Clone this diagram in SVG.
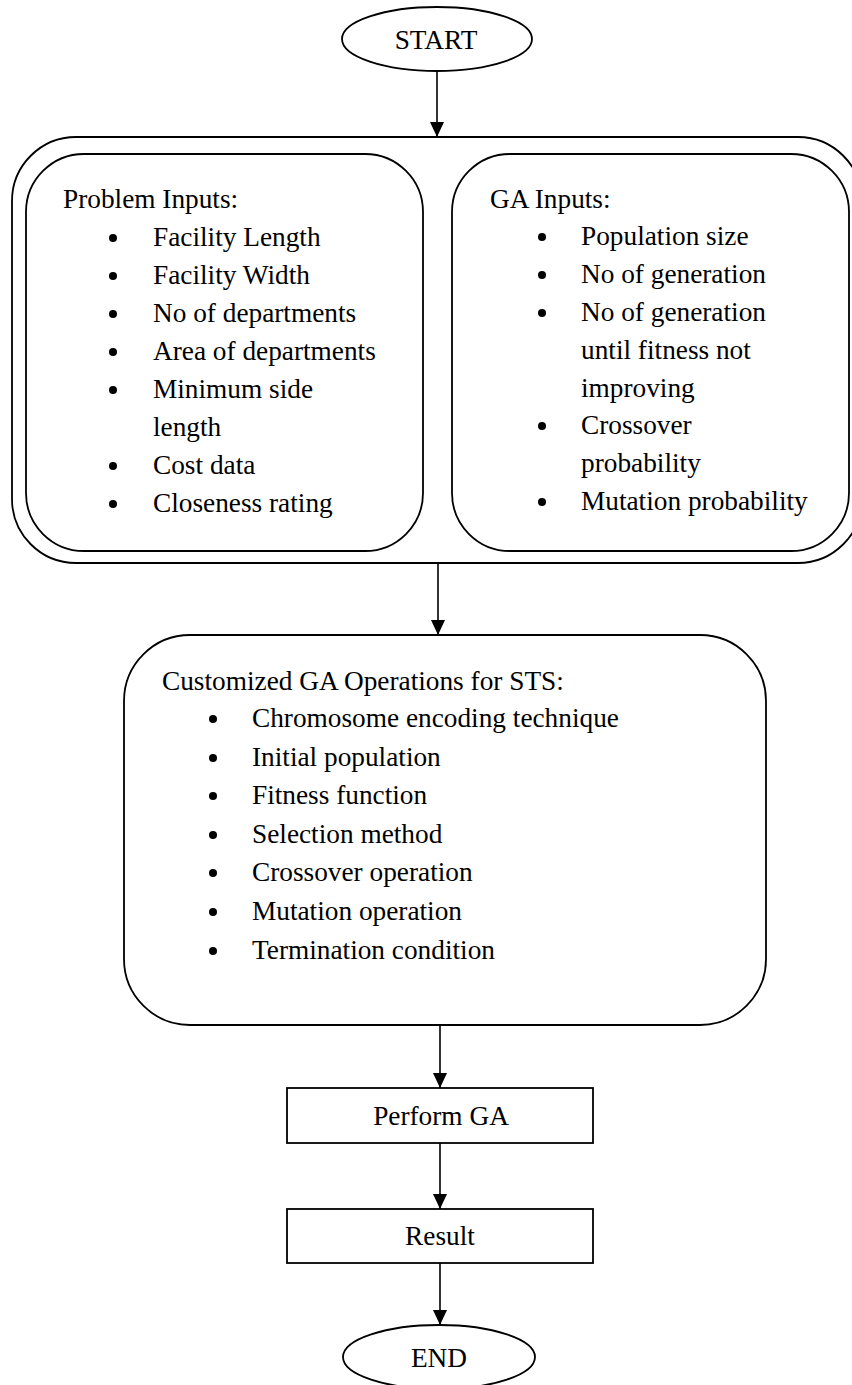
<svg xmlns="http://www.w3.org/2000/svg" width="852" height="1385" viewBox="0 0 852 1385">
  <style>
    .shape { fill: none; stroke: #000; stroke-width: 1.8; }
    .txt { font-family: "Liberation Serif", "Times New Roman", serif; font-size: 27.3px; fill: #000; }
    .mid { text-anchor: middle; }
    .dot { fill: #000; }
    .link { stroke: #000; stroke-width: 1.6; fill: none; marker-end: url(#arrow); }
  </style>
  <defs>
    <marker id="arrow" markerUnits="userSpaceOnUse" markerWidth="15" markerHeight="14" refX="15" refY="7" orient="auto" viewBox="0 0 15 14">
      <path d="M0,0 L15,7 L0,14 Z" fill="#000"/>
    </marker>
  </defs>
  <rect width="852" height="1385" fill="#fff"/>

  <!-- connectors -->
  <g id="connectors">
    <line class="link" x1="437" y1="71" x2="437" y2="137"/>
    <line class="link" x1="438" y1="564" x2="438" y2="635"/>
    <line class="link" x1="440" y1="1025" x2="440" y2="1088"/>
    <line class="link" x1="440" y1="1143" x2="440" y2="1209"/>
    <line class="link" x1="440" y1="1263" x2="440" y2="1325"/>
  </g>

  <!-- start terminator -->
  <g id="start">
    <ellipse class="shape" cx="437" cy="39" rx="95" ry="32"/>
    <text class="txt mid" x="436" y="49">START</text>
  </g>

  <!-- inputs container -->
  <g id="inputs">
    <rect class="shape" x="12" y="137" width="850" height="426" rx="64" ry="64"/>
  </g>

  <!-- problem inputs -->
  <g id="problem-inputs">
    <rect class="shape" x="26" y="154" width="397" height="397" rx="58" ry="58"/>
    <text class="txt" x="63" y="208">Problem Inputs:</text>
    <circle class="dot" cx="113" cy="238" r="4"/>
    <text class="txt" x="153" y="246">Facility Length</text>
    <circle class="dot" cx="113" cy="276" r="4"/>
    <text class="txt" x="153" y="284">Facility Width</text>
    <circle class="dot" cx="113" cy="314" r="4"/>
    <text class="txt" x="153" y="322">No of departments</text>
    <circle class="dot" cx="113" cy="352" r="4"/>
    <text class="txt" x="153" y="360">Area of departments</text>
    <circle class="dot" cx="113" cy="390" r="4"/>
    <text class="txt" x="153" y="398">Minimum side</text>
    <text class="txt" x="153" y="436">length</text>
    <circle class="dot" cx="113" cy="466" r="4"/>
    <text class="txt" x="153" y="474">Cost data</text>
    <circle class="dot" cx="113" cy="504" r="4"/>
    <text class="txt" x="153" y="512">Closeness rating</text>
  </g>

  <!-- GA inputs -->
  <g id="ga-inputs">
    <rect class="shape" x="452" y="154" width="397" height="397" rx="58" ry="58"/>
    <text class="txt" x="490" y="208">GA Inputs:</text>
    <circle class="dot" cx="542" cy="237" r="4"/>
    <text class="txt" x="581" y="245">Population size</text>
    <circle class="dot" cx="542" cy="275" r="4"/>
    <text class="txt" x="581" y="283">No of generation</text>
    <circle class="dot" cx="542" cy="313" r="4"/>
    <text class="txt" x="581" y="321">No of generation</text>
    <text class="txt" x="581" y="359">until fitness not</text>
    <text class="txt" x="581" y="397">improving</text>
    <circle class="dot" cx="542" cy="426" r="4"/>
    <text class="txt" x="581" y="434">Crossover</text>
    <text class="txt" x="581" y="472">probability</text>
    <circle class="dot" cx="542" cy="502" r="4"/>
    <text class="txt" x="581" y="510">Mutation probability</text>
  </g>

  <!-- customized GA operations -->
  <g id="ga-operations">
    <rect class="shape" x="124" y="635" width="642" height="390" rx="66" ry="66"/>
    <text class="txt" x="162" y="690">Customized GA Operations for STS:</text>
    <circle class="dot" cx="213" cy="719" r="4"/>
    <text class="txt" x="252" y="727">Chromosome encoding technique</text>
    <circle class="dot" cx="213" cy="758" r="4"/>
    <text class="txt" x="252" y="766">Initial population</text>
    <circle class="dot" cx="213" cy="796" r="4"/>
    <text class="txt" x="252" y="804">Fitness function</text>
    <circle class="dot" cx="213" cy="835" r="4"/>
    <text class="txt" x="252" y="843">Selection method</text>
    <circle class="dot" cx="213" cy="873" r="4"/>
    <text class="txt" x="252" y="881">Crossover operation</text>
    <circle class="dot" cx="213" cy="912" r="4"/>
    <text class="txt" x="252" y="920">Mutation operation</text>
    <circle class="dot" cx="213" cy="951" r="4"/>
    <text class="txt" x="252" y="959">Termination condition</text>
  </g>

  <!-- perform GA -->
  <g id="perform-ga">
    <rect class="shape" x="287" y="1088" width="306" height="55"/>
    <text class="txt mid" x="441" y="1125">Perform GA</text>
  </g>

  <!-- result -->
  <g id="result">
    <rect class="shape" x="287" y="1209" width="306" height="54"/>
    <text class="txt mid" x="440" y="1245">Result</text>
  </g>

  <!-- end terminator -->
  <g id="end">
    <ellipse class="shape" cx="439" cy="1357" rx="96" ry="32"/>
    <text class="txt mid" x="439" y="1367">END</text>
  </g>
</svg>
